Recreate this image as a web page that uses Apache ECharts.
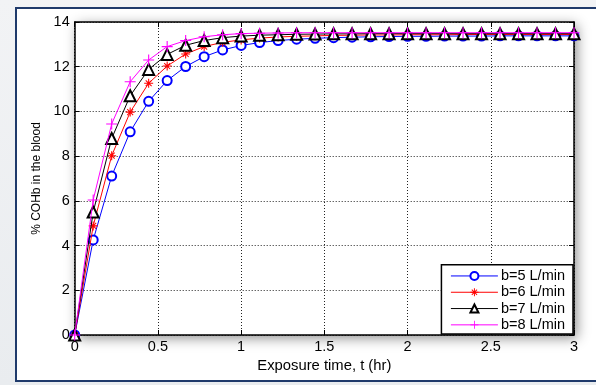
<!DOCTYPE html>
<html>
<head>
<meta charset="utf-8">
<script src="https://cdn.jsdelivr.net/npm/echarts@6/dist/echarts.min.js"></script>
<style>
html,body{margin:0;padding:0;width:596px;height:385px;overflow:hidden;background:linear-gradient(#f2f3f5,#e9ecef);}
#frame{position:absolute;left:15px;top:7px;width:590px;height:371px;border:2px solid #1f3a6b;background:#fff;box-sizing:content-box;}
#chart{position:absolute;left:0;top:0;width:596px;height:385px;}
</style>
</head>
<body>
<div id="frame"></div>
<div id="chart"></div>
<script>
const times = [0, 0.1111, 0.2222, 0.3333, 0.4444, 0.5556, 0.6667, 0.7778, 0.8889, 1.0,
  1.1111, 1.2222, 1.3333, 1.4444, 1.5556, 1.6667, 1.7778, 1.8889, 2.0,
  2.1111, 2.2222, 2.3333, 2.4444, 2.5556, 2.6667, 2.7778, 2.8889, 3.0];
const seriesNames = ['b=5 L/min', 'b=6 L/min', 'b=7 L/min', 'b=8 L/min'];
const b5 = [0, 4.25, 7.11, 9.09, 10.45, 11.38, 12.01, 12.45, 12.75, 12.95, 13.08, 13.17, 13.23, 13.27,
  13.30, 13.32, 13.34, 13.35, 13.36, 13.36, 13.37, 13.37, 13.37, 13.38, 13.38, 13.38, 13.38, 13.38];
const b6 = [0, 4.88, 8.02, 9.97, 11.26, 12.03, 12.57, 12.90, 13.09, 13.20, 13.28, 13.33, 13.36, 13.38,
  13.40, 13.41, 13.42, 13.42, 13.43, 13.43, 13.43, 13.44, 13.44, 13.44, 13.44, 13.44, 13.44, 13.44];
const b7 = [0, 5.50, 8.79, 10.70, 11.88, 12.55, 12.96, 13.17, 13.30, 13.37, 13.41, 13.43, 13.45, 13.46,
  13.47, 13.47, 13.48, 13.48, 13.48, 13.48, 13.48, 13.48, 13.48, 13.48, 13.48, 13.48, 13.48, 13.48];
const b8 = [0, 6.04, 9.44, 11.33, 12.30, 12.90, 13.17, 13.34, 13.43, 13.48, 13.50, 13.51, 13.52, 13.52,
  13.52, 13.52, 13.52, 13.52, 13.52, 13.52, 13.52, 13.52, 13.52, 13.52, 13.52, 13.52, 13.52, 13.52];
const xTicks = [0, 0.5, 1, 1.5, 2, 2.5, 3];
const yTicks = [0, 2, 4, 6, 8, 10, 12, 14];

const colors = ['#0000ff', '#ff0000', '#000000', '#ff00ff'];
const asterisk = 'path://M0,4.4H10V5.6H0Z M4.4,0H5.6V10H4.4Z M1.3,2.1L2.1,1.3L8.7,7.9L7.9,8.7Z M7.9,1.3L8.7,2.1L2.1,8.7L1.3,7.9Z';
const plus = 'path://M0,4.5H10V5.5H0Z M4.5,0H5.5V10H4.5Z';
const symbols = ['emptyCircle', asterisk, 'emptyTriangle', plus];
const sizes = [9, 9, 11, 11];
const allData = [b5, b6, b7, b8];

const font = 'Liberation Sans, Arial, sans-serif';
const chart = echarts.init(document.getElementById('chart'), null, {renderer: 'canvas'});

const series = allData.map((vals, i) => ({
  name: seriesNames[i],
  type: 'line',
  data: times.map((t, k) => [t, vals[k]]),
  symbol: symbols[i],
  symbolSize: sizes[i],
  showAllSymbol: true,
  color: colors[i],
  lineStyle: {color: colors[i], width: 1},
  itemStyle: (i === 0 || i === 2) ? {color: colors[i], borderColor: colors[i], borderWidth: 1} : {color: colors[i], borderWidth: 0},
  emphasis: {disabled: true},
  animation: false,
  z: 3 + i
}));

const axisCommon = {
  type: 'value',
  axisLine: {show: true, onZero: false, lineStyle: {color: '#000', width: 1.5}},
  axisTick: {show: true, inside: true, length: 5, lineStyle: {color: '#000', width: 1}},
};

chart.setOption({
  animation: false,
  grid: {left: 74.7, right: 22, top: 22, bottom: 50, show: true, backgroundColor: '#fff',
    borderWidth: 0, shadowBlur: 12, shadowColor: 'rgba(0,0,0,0.45)', shadowOffsetX: 3, shadowOffsetY: 3},
  legend: {
    data: seriesNames,
    orient: 'vertical',
    right: 23, bottom: 51,
    backgroundColor: '#fff',
    borderColor: '#000', borderWidth: 1.5,
    padding: [3, 8, 1, 9],
    itemWidth: 47, itemHeight: 10, itemGap: 0,
    itemStyle: {borderWidth: 1},
    lineStyle: {width: 1},
    textStyle: {fontFamily: font, fontSize: 14.5, lineHeight: 16.3, color: '#000', padding: [0, 0, 0, -2]},
    selectedMode: false
  },
  xAxis: [
    Object.assign({}, axisCommon, {
      min: 0, max: 3, interval: 0.5, position: 'bottom',
      name: 'Exposure time, t (hr)', nameLocation: 'middle', nameGap: 20,
      nameTextStyle: {fontFamily: font, fontSize: 14.8, color: '#000'},
      axisLabel: {fontFamily: font, fontSize: 14.5, color: '#000', margin: 4,
        formatter: v => xTicks.includes(v) ? String(v) : ''},
      splitLine: {show: true, lineStyle: {color: '#222', type: [1, 2], width: 1}}
    }),
    Object.assign({}, axisCommon, {
      min: 0, max: 3, interval: 0.5, position: 'top',
      axisLabel: {show: false}, splitLine: {show: false}
    })
  ],
  yAxis: [
    Object.assign({}, axisCommon, {
      min: 0, max: 14, interval: 2, position: 'left',
      name: '% COHb in the blood', nameLocation: 'middle', nameGap: 31,
      nameTextStyle: {fontFamily: font, fontSize: 12, color: '#000'},
      axisLabel: {fontFamily: font, fontSize: 14.5, color: '#000', margin: 5,
        formatter: v => yTicks.includes(v) ? String(v) : ''},
      splitLine: {show: true, lineStyle: {color: '#222', type: [1, 2], width: 1}}
    }),
    Object.assign({}, axisCommon, {
      min: 0, max: 14, interval: 2, position: 'right',
      axisLabel: {show: false}, splitLine: {show: false}
    })
  ],
  series: series
});
</script>
</body>
</html>
